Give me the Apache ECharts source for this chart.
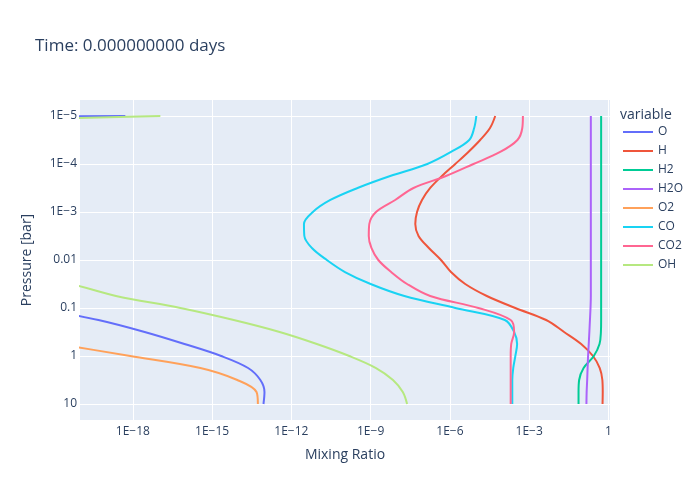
<!DOCTYPE html>
<html>
<head>
<meta charset="utf-8">
<script src="https://cdn.jsdelivr.net/npm/echarts@6/dist/echarts.min.js"></script>
<style>
html, body { margin: 0; padding: 0; background: #fff; }
#chart { width: 700px; height: 500px; }
</style>
</head>
<body>
<div id="chart"></div>
<script>
// pressure levels [bar], four per decade from 1e-5 down to 10
const pressure = [1e-5, 1.78e-5, 3.16e-5, 5.62e-5, 1e-4, 1.78e-4, 3.16e-4, 5.62e-4,
    1e-3, 1.78e-3, 3.16e-3, 5.62e-3, 1e-2, 1.78e-2, 3.16e-2, 5.62e-2,
    0.1, 0.178, 0.316, 0.562, 1, 1.78, 3.16, 5.62, 10];

// mixing ratios at each level (values below 1e-20 fall off the left edge)
const O = [5.2e-19, 1e-60, 1e-60, 1e-60, 1e-60, 1e-60, 1e-60, 1e-60, 1e-60, 1e-60, 1e-60, 1e-60,
    1e-60, 1e-60, 1e-60, 1e-24, 2.5e-22, 5e-20, 2.8e-18, 9e-17, 2.2e-15, 2.3e-14, 6.7e-14, 9.6e-14, 8.8e-14];
const H = [5.2e-5, 3.3e-5, 1.4e-5, 5.0e-6, 1.6e-6, 5.0e-7, 1.8e-7, 8.8e-8, 5.7e-8, 4.9e-8, 6.5e-8, 1.6e-7,
    4.6e-7, 1.1e-6, 3.8e-6, 2.5e-5, 3.0e-4, 4.4e-3, 2.1e-2, 9.3e-2, 0.26, 0.47, 0.59, 0.61, 0.60];
const H2 = [0.53, 0.53, 0.53, 0.53, 0.53, 0.53, 0.53, 0.53, 0.53, 0.53, 0.53, 0.53,
    0.53, 0.53, 0.53, 0.53, 0.53, 0.53, 0.52, 0.46, 0.28, 0.115, 0.078, 0.074, 0.074];
const H2O = [0.216, 0.216, 0.216, 0.216, 0.216, 0.216, 0.216, 0.216, 0.216, 0.216, 0.216, 0.216,
    0.216, 0.216, 0.216, 0.216, 0.21, 0.2, 0.19, 0.18, 0.17, 0.163, 0.157, 0.15, 0.147];
const O2 = [1e-60, 1e-60, 1e-60, 1e-60, 1e-60, 1e-60, 1e-60, 1e-60, 1e-60, 1e-60, 1e-60, 1e-60,
    1e-60, 1e-60, 1e-60, 1e-60, 1e-60, 1e-28, 1e-24, 1.3e-21, 8e-19, 3.6e-16, 9e-15, 4.8e-14, 5.4e-14];
const CO = [1.0e-5, 8.3e-6, 5.4e-6, 1.1e-6, 1.4e-7, 5.5e-9, 3.2e-10, 3.0e-11, 6.5e-12, 3.0e-12, 3.1e-12, 6.0e-12,
    2.2e-11, 1.07e-10, 1.0e-9, 1.9e-8, 1.6e-6, 1.2e-4, 2.7e-4, 3.5e-4, 3.0e-4, 2.5e-4, 2.3e-4, 2.3e-4, 2.3e-4];
const CO2 = [5.8e-4, 5.5e-4, 3.6e-4, 8.0e-5, 7.8e-6, 7.1e-7, 4.2e-8, 8.5e-9, 1.6e-9, 8.9e-10, 8.5e-10, 1.07e-9,
    1.95e-9, 6.0e-9, 2.4e-8, 1.8e-7, 1.2e-5, 2.0e-4, 2.7e-4, 2.1e-4, 2.0e-4, 2.0e-4, 2.0e-4, 2.0e-4, 2.0e-4];
const OH = [1.1e-17, 2e-33, 1e-40, 1e-40, 1e-40, 1e-40, 1e-40, 1e-40, 1e-40, 1e-40, 1e-40, 1e-40,
    1e-30, 1e-24, 4e-21, 2.3e-19, 6.3e-17, 6.6e-15, 3.6e-13, 9.2e-12, 1.56e-10, 1.6e-9, 7.0e-9, 1.65e-8, 2.4e-8];

const speciesNames = ['O', 'H', 'H2', 'H2O', 'O2', 'CO', 'CO2', 'OH'];
const speciesData = [O, H, H2, H2O, O2, CO, CO2, OH];
const colors = ['#636efa', '#EF553B', '#00cc96', '#ab63fa', '#FFA15A', '#19d3f3', '#FF6692', '#B6E880'];

const xTicks = [1e-18, 1e-15, 1e-12, 1e-9, 1e-6, 1e-3, 1];
const yTicks = [1e-5, 1e-4, 1e-3, 0.01, 0.1, 1, 10];

const font = '"Open Sans", verdana, arial, sans-serif';
const textColor = '#2a3f5f';

function expLabel(v, plainFrom) {
    const e = Math.round(Math.log10(v));
    if (e >= plainFrom) {
        return e >= 0 ? String(Math.pow(10, e)) : (Math.pow(10, e)).toFixed(-e);
    }
    return '1E\u2212' + (-e);
}

let chart = echarts.init(document.getElementById('chart'));

let option = {
    animation: false,
    textStyle: { fontFamily: font },
    color: colors,
    title: [
        {
            text: 'Time: 0.000000000 days',
            left: 30,
            top: 33,
            textStyle: { fontSize: 17, fontWeight: 'normal', color: textColor, fontFamily: font }
        },
        {
            text: 'variable',
            left: 615,
            top: 103,
            textStyle: { fontSize: 14, fontWeight: 'normal', color: textColor, fontFamily: font }
        }
    ],
    legend: {
        orient: 'vertical',
        left: 622,
        top: 126,
        padding: 0,
        itemWidth: 30,
        itemHeight: 14,
        itemGap: 7,
        itemStyle: { opacity: 0 },
        textStyle: { fontSize: 12, color: textColor, fontFamily: font },
        data: speciesNames
    },
    grid: {
        left: 80, right: 90, top: 100, bottom: 80,
        show: true,
        backgroundColor: '#E5ECF6',
        borderWidth: 0
    },
    xAxis: {
        type: 'log',
        min: 1e-20,
        max: Math.pow(10, 0.06),
        name: 'Mixing Ratio',
        nameLocation: 'middle',
        nameGap: 28,
        nameTextStyle: { fontSize: 14, color: textColor, fontFamily: font },
        axisLine: { show: false },
        axisTick: { show: false, customValues: xTicks },
        axisLabel: {
            customValues: xTicks,
            fontSize: 12, color: textColor, fontFamily: font, margin: 6,
            formatter: v => expLabel(v, 0)
        },
        splitLine: { show: true, lineStyle: { color: '#ffffff', width: 1 } }
    },
    yAxis: {
        type: 'log',
        inverse: true,
        min: Math.pow(10, -16 / 3),
        max: Math.pow(10, 4 / 3),
        name: 'Pressure [bar]',
        nameLocation: 'middle',
        nameGap: 46,
        nameTextStyle: { fontSize: 14, color: textColor, fontFamily: font },
        axisLine: { show: false },
        axisTick: { show: false, customValues: yTicks },
        axisLabel: {
            customValues: yTicks,
            fontSize: 12, color: textColor, fontFamily: font, margin: 3,
            formatter: v => expLabel(v, -2)
        },
        splitLine: { show: true, lineStyle: { color: '#ffffff', width: 1 } }
    },
    series: speciesNames.map((name, i) => ({
        name: name,
        type: 'line',
        symbol: 'none',
        smooth: 0.35,
        lineStyle: { width: 2, color: colors[i] },
        itemStyle: { color: colors[i] },
        data: pressure.map((p, j) => [speciesData[i][j], p])
    }))
};

chart.setOption(option);
</script>
</body>
</html>
